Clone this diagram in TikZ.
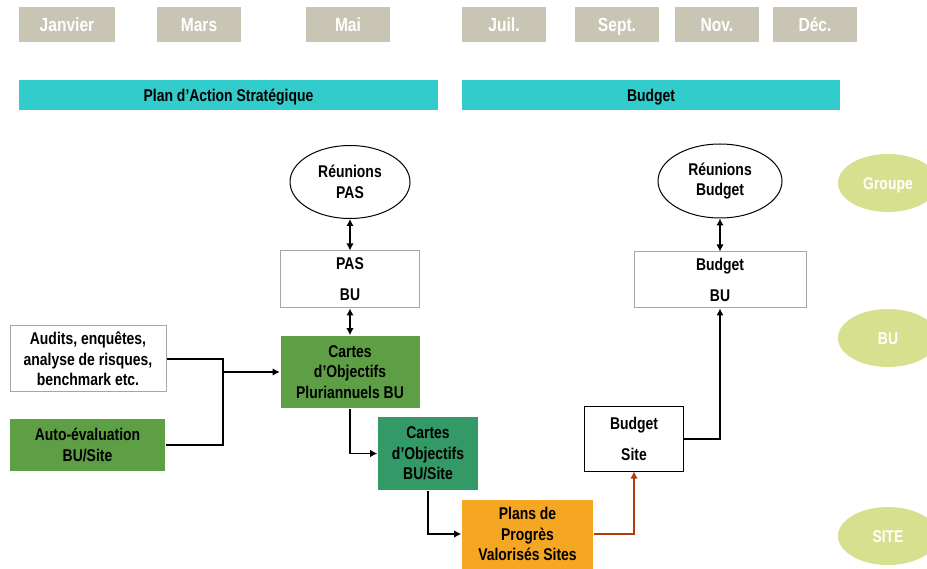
\documentclass[tikz,border=0pt]{standalone}
\usepackage{fontspec}
\setmainfont{Liberation Sans}[FakeStretch=0.82]
\usetikzlibrary{shapes.geometric,arrows.meta}

\definecolor{monthgray}{HTML}{C9C5B4}
\definecolor{barcyan}{HTML}{33CCCC}
\definecolor{cartegreen}{HTML}{5E9E44}
\definecolor{sitegreen}{HTML}{339966}
\definecolor{planorange}{HTML}{F5A623}
\definecolor{levelgreen}{HTML}{D6E08E}
\definecolor{linkred}{HTML}{B33A0F}

\begin{document}
\begin{tikzpicture}[x=1pt,y=-1pt,>={Latex[length=7pt,width=7.5pt]},line width=1.6pt,
  month/.style={fill=monthgray,text=white,minimum width=84pt,minimum height=35pt,inner sep=0pt,
    text height=13.6pt,text depth=0pt,font=\bfseries\fontsize{19}{21}\selectfont},
  phase/.style={fill=barcyan,minimum height=30pt,inner sep=0pt,text height=12.2pt,text depth=0pt,
    font=\bfseries\fontsize{17}{19}\selectfont},
  meeting/.style={ellipse,draw,line width=1pt,fill=white,inner sep=0pt,align=center,
    font=\bfseries\fontsize{17}{20.5}\selectfont},
  box/.style={draw=gray!70,line width=1pt,inner sep=0pt,align=center,font=\bfseries\fontsize{17}{20.5}\selectfont},
  greenbox/.style={fill=#1,inner sep=0pt,align=center,font=\bfseries\fontsize{17}{20.5}\selectfont},
  level/.style={ellipse,fill=levelgreen,text=white,minimum width=100pt,minimum height=58pt,inner sep=0pt,
    text height=12.2pt,text depth=0pt,font=\bfseries\fontsize{17}{19}\selectfont}]
  \useasboundingbox (0,0) rectangle (927,569);
  \clip (0,0) rectangle (927,569);

  % calendar
  \node[month,minimum width=96pt] (jan) at (67,24.5) {Janvier};
  \node[month] (mar) at (199,24.5) {Mars};
  \node[month] (mai) at (348,24.5) {Mai};
  \node[month] (jul) at (504,24.5) {Juil.};
  \node[month] (sep) at (617,24.5) {Sept.};
  \node[month] (nov) at (717,24.5) {Nov.};
  \node[month] (dec) at (815,24.5) {Déc.};

  \node[phase,minimum width=419pt] (pasbar) at (228.5,95) {Plan d’Action Stratégique};
  \node[phase,minimum width=378pt] (budgetbar) at (651,95) {Budget};

  % levels
  \node[level] (groupe) at (888,183) {Groupe};
  \node[level] (bulevel) at (888,338) {BU};
  \node[level] (sitelevel) at (888,536) {SITE};

  % strategic plan
  \node[meeting,minimum width=120pt,minimum height=73pt] (pasmeet) at (350,182) {Réunions\\PAS};
  \node[box,minimum width=139pt,minimum height=57pt] (pasbu) at (350,279.5) {PAS\\[10.5pt]BU};
  \node[greenbox=cartegreen,minimum width=139pt,minimum height=72pt] (cartesbu) at (350,372)
    {Cartes\\d’Objectifs\\Pluriannuels BU};
  \node[box,minimum width=156pt,minimum height=66pt] (audits) at (88,359)
    {Audits, enquêtes,\\analyse de risques,\\benchmark etc.};
  \node[greenbox=cartegreen,minimum width=155pt,minimum height=52pt] (autoeval) at (87.5,445)
    {Auto-évaluation\\BU/Site};
  \node[greenbox=sitegreen,minimum width=100pt,minimum height=73pt] (cartessite) at (428,453.5)
    {Cartes\\d’Objectifs\\BU/Site};
  \node[greenbox=planorange,minimum width=131pt,minimum height=69pt] (plans) at (527.5,534)
    {Plans de\\Progrès\\Valorisés Sites};

  % budget
  \node[meeting,minimum width=124pt,minimum height=74pt] (budgetmeet) at (720,181) {Réunions\\Budget};
  \node[box,minimum width=172pt,minimum height=56pt] (budgetbu) at (720,280) {Budget\\[10.5pt]BU};
  \node[box,draw=black,minimum width=99pt,minimum height=64pt] (budgetsite) at (634,439)
    {Budget\\[10.5pt]Site};

  \draw[<->] (pasmeet.south) -- (pasbu.north);
  \draw[<->] (pasbu.south) -- (cartesbu.north);
  \draw[<->] (budgetmeet.south) -- (budgetbu.north);

  \coordinate (merge) at (223,372);
  \draw (audits.east) -| (merge);
  \draw (autoeval.east) -| (merge);
  \draw[->] (merge) -- (cartesbu.west);
  \draw[->] (cartesbu.south) |- (cartessite.west);
  \draw[->] (cartessite.south) |- (plans.west);
  \draw[->,linkred] (plans.east) -| (budgetsite.south);
  \draw[->] (budgetsite.east) -| (budgetbu.south);
\end{tikzpicture}
\end{document}
